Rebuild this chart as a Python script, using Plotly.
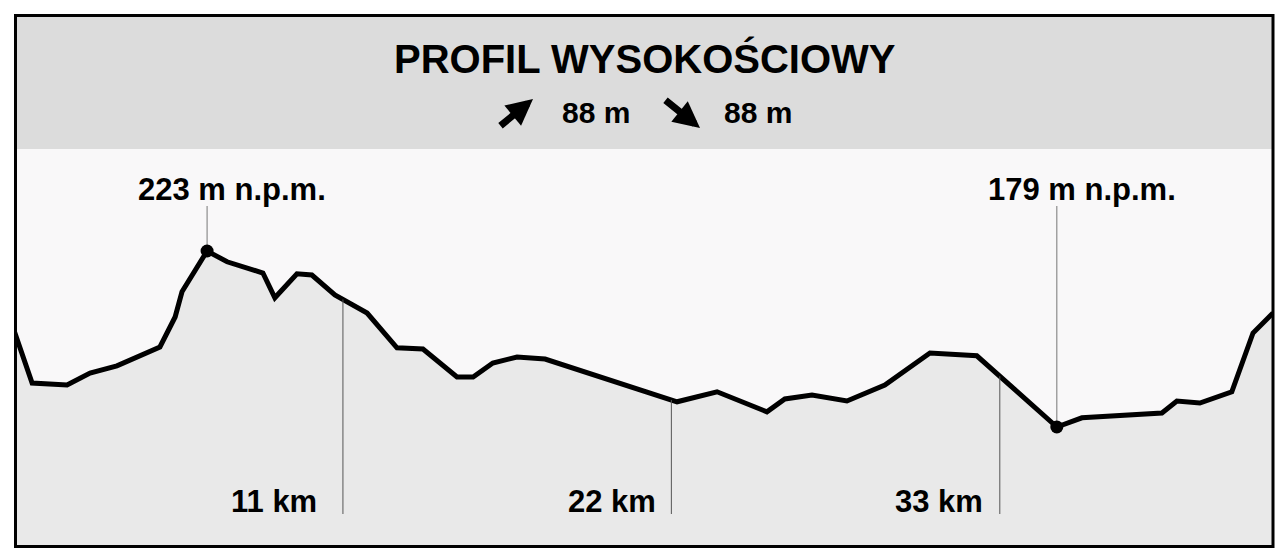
import numpy as np
import plotly.graph_objects as go

# ---- data ----
distance_km = [0.0, 0.59, 1.76, 2.53, 3.43, 4.87, 5.38, 5.61, 6.45, 7.12, 8.32, 8.72, 9.46, 9.96,
               10.73, 11.81, 12.81, 13.68, 14.82, 15.36, 16.02, 16.83, 17.77, 22.19, 23.53, 25.2,
               25.8, 26.71, 27.88, 29.15, 30.66, 32.23, 34.91, 35.75, 38.43, 38.93, 39.7, 40.77,
               41.48, 42.15]
elevation_m = [202.8, 190.0, 189.5, 192.5, 194.3, 199.0, 206.5, 212.8, 223.0, 220.3, 217.5, 211.3,
               217.3, 217.0, 212.0, 207.5, 198.8, 198.5, 191.5, 191.5, 195.0, 196.5, 196.0, 185.3,
               187.8, 182.8, 186.0, 187.0, 185.5, 189.5, 197.5, 196.8, 179.0, 181.3, 182.5, 185.5,
               185.0, 187.8, 202.5, 207.5]
km_marks = [11, 22, 33]
title_text = "PROFIL WYSOKOŚCIOWY"
ascent_m = 88
descent_m = 88

# page body has an 8px margin; figure sized to fit the 1287x560 window
OFF = 8
W, H = 1279, 548
FONT = "Arial, 'Liberation Sans', Helvetica, sans-serif"
KM_LABEL_SHIFTS = [-24, -13, -15]

def px(x):
    return (x - OFF) / W

def py(y):
    return 1 - (y - OFF) / H

dist = np.array(distance_km)
elev = np.array(elevation_m)

y_range = [149.0, 248.5]
x_range = [0.0, 42.15]
mark_bottom = 157.25
label_line_top = 234.25

fig = go.Figure()

# profile with fill
fig.add_trace(go.Scatter(x=dist, y=elev, mode="lines", fill="tozeroy",
                         fillcolor="#e9e9e9", line=dict(color="black", width=5),
                         hoverinfo="skip", showlegend=False))

# km marker lines
for k, sh in zip(km_marks, KM_LABEL_SHIFTS):
    e = float(np.interp(k, dist, elev))
    fig.add_trace(go.Scatter(x=[k, k], y=[mark_bottom, e], mode="lines",
                             line=dict(color="#555555", width=1), showlegend=False,
                             hoverinfo="skip"))
    fig.add_annotation(x=k, y=160.5, xref="x", yref="y", text=f"<b>{k} km</b>",
                       showarrow=False, xanchor="right", yanchor="middle", xshift=sh,
                       font=dict(family=FONT, size=31, color="black"))

# extreme points
i_max = int(np.argmax(elev))
i_min = int(np.argmin(elev))
for i in (i_max, i_min):
    fig.add_trace(go.Scatter(x=[dist[i], dist[i]], y=[elev[i], label_line_top], mode="lines",
                             line=dict(color="#777777", width=1), showlegend=False,
                             hoverinfo="skip"))
    fig.add_annotation(x=dist[i], y=238.3, xref="x", yref="y",
                       text=f"<b>{elev[i]:.0f} m n.p.m.</b>", showarrow=False,
                       xanchor="center", yanchor="middle", xshift=25,
                       font=dict(family=FONT, size=31, color="black"))
fig.add_trace(go.Scatter(x=[dist[i_max], dist[i_min]], y=[elev[i_max], elev[i_min]],
                         mode="markers", marker=dict(color="black", size=13),
                         showlegend=False, hoverinfo="skip"))

# header
fig.add_shape(type="rect", xref="paper", yref="paper", x0=px(15), x1=px(1273),
              y0=py(149), y1=py(15), fillcolor="#dcdcdc", line=dict(width=0), layer="below")
# frame
fig.add_shape(type="rect", xref="paper", yref="paper", x0=px(15.5), x1=px(1273),
              y0=py(546.5), y1=py(15.5), fillcolor="rgba(0,0,0,0)",
              line=dict(color="black", width=3), layer="above")

fig.add_annotation(x=px(645), y=py(58), xref="paper", yref="paper",
                   text=f"<b>{title_text}</b>", showarrow=False,
                   xanchor="center", yanchor="middle",
                   font=dict(family=FONT, size=40, color="black"))
fig.add_annotation(x=px(596), y=py(113), xref="paper", yref="paper",
                   text=f"<b>{ascent_m} m</b>", showarrow=False,
                   xanchor="center", yanchor="middle",
                   font=dict(family=FONT, size=30, color="black"))
fig.add_annotation(x=px(758), y=py(113), xref="paper", yref="paper",
                   text=f"<b>{descent_m} m</b>", showarrow=False,
                   xanchor="center", yanchor="middle",
                   font=dict(family=FONT, size=30, color="black"))
# arrows
fig.add_annotation(x=px(533), y=py(99), xref="paper", yref="paper", text="",
                   showarrow=True, ax=-34, ay=28, arrowhead=2, arrowsize=0.75,
                   arrowwidth=7, arrowcolor="black")
fig.add_annotation(x=px(700), y=py(128), xref="paper", yref="paper", text="",
                   showarrow=True, ax=-36, ay=-29, arrowhead=2, arrowsize=0.75,
                   arrowwidth=7, arrowcolor="black")

fig.update_layout(
    width=W, height=H,
    margin=dict(l=0, r=0, t=0, b=0),
    paper_bgcolor="white",
    plot_bgcolor="#f9f8f9",
    xaxis=dict(domain=[px(14.5), px(1273)], range=x_range, visible=False, fixedrange=True),
    yaxis=dict(domain=[py(547), py(149)], range=y_range, visible=False, fixedrange=True),
    showlegend=False,
)

fig.write_html("out.html")
